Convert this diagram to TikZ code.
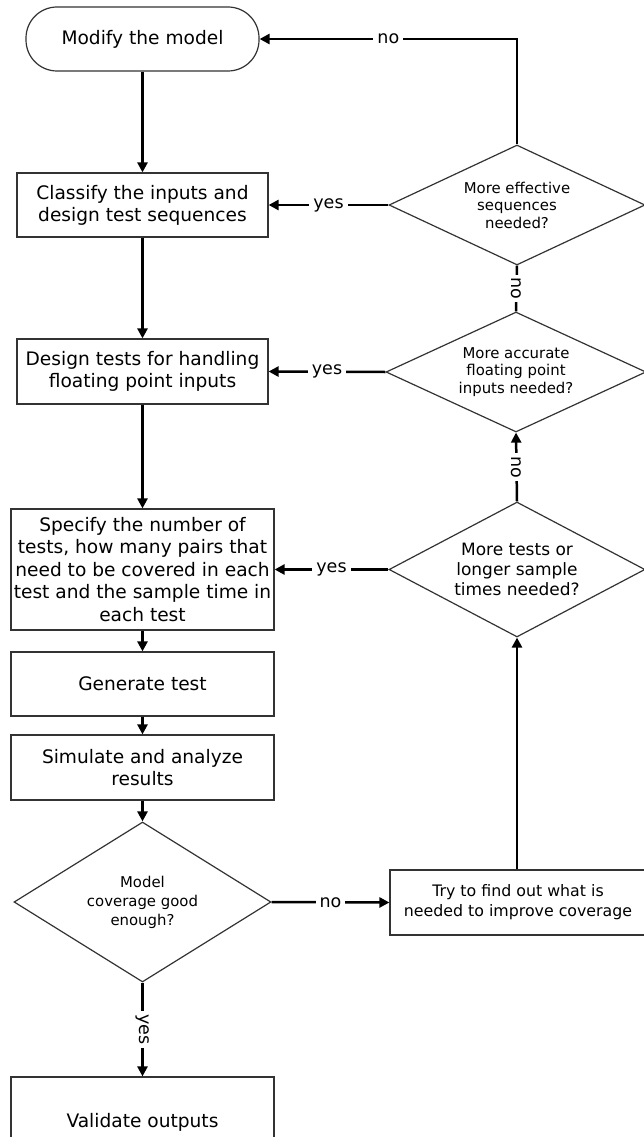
\documentclass[tikz,border=0pt]{standalone}
\usepackage{fontspec}
\setmainfont{DejaVu Sans}
\usetikzlibrary{shapes.geometric,arrows.meta}
\begin{document}
\begin{tikzpicture}[x=1pt,y=-1pt,
  boxstyle/.style={draw=black!80,line width=1.2pt,rectangle,inner sep=0pt,align=center,
    font=\fontsize{18.6}{22}\selectfont},
  decstyle/.style={draw=black!80,line width=1.2pt,diamond,inner sep=0pt,align=center},
  conn/.style={line width=2.5pt,-{Triangle[length=10pt,width=10pt]}},
  connplain/.style={line width=2.5pt},
  lbl/.style={fill=white,inner sep=4pt,font=\fontsize{17.5}{20}\selectfont},
  rlbl/.style={fill=white,inner sep=3pt,rotate=-90,font=\fontsize{17.5}{20}\selectfont}]
\useasboundingbox (0,0) rectangle (643,1137);
\fill[white] (0,0) rectangle (643,1137);

\node[boxstyle,rounded corners=31pt,minimum width=233pt,minimum height=64pt] (modify) at (142.5,39) {Modify the model};
\node[boxstyle,minimum width=251pt,minimum height=64pt] (classify) at (142.5,205) {Classify the inputs and\\design test sequences};
\node[boxstyle,minimum width=251pt,minimum height=65pt] (design) at (142.5,371.5) {Design tests for handling\\floating point inputs};
\node[boxstyle,minimum width=263pt,minimum height=121pt,font=\fontsize{18.6}{22.5}\selectfont] (specify) at (142.5,569.5) {Specify the number of\\tests, how many pairs that\\need to be covered in each\\test and the sample time in\\each test};
\node[boxstyle,minimum width=263pt,minimum height=64pt] (generate) at (142.5,684) {Generate test};
\node[boxstyle,minimum width=263pt,minimum height=65pt] (simulate) at (142.5,767.5) {Simulate and analyze\\results};
\node[boxstyle,minimum width=263pt,minimum height=90pt] (validate) at (142.5,1122) {Validate outputs};
\node[boxstyle,minimum width=256pt,minimum height=65pt,font=\fontsize{15.8}{20}\selectfont] (try) at (518,902.5) {Try to find out what is\\needed to improve coverage};

\node[decstyle,minimum width=257pt,minimum height=160pt,aspect=1.6,font=\fontsize{14.9}{19}\selectfont] (d4) at (142.5,902) {Model\\coverage good\\enough?};
\node[decstyle,minimum width=256pt,minimum height=120pt,aspect=2.13,font=\fontsize{14.9}{17.5}\selectfont] (d1) at (517,205) {More effective\\sequences\\needed?};
\node[decstyle,minimum width=260pt,minimum height=120pt,aspect=2.17,font=\fontsize{14.9}{17.5}\selectfont] (d2) at (516,372) {More accurate\\floating point\\inputs needed?};
\node[decstyle,minimum width=256pt,minimum height=135pt,aspect=1.9,font=\fontsize{17}{20}\selectfont] (d3) at (517,569.5) {More tests or\\longer sample\\times needed?};

\draw[conn] (modify) -- (classify);
\draw[conn] (classify) -- (design);
\draw[conn] (design) -- (specify);
\draw[conn] (specify) -- (generate);
\draw[conn] (generate) -- (simulate);
\draw[conn] (simulate) -- (d4);
\draw[conn] (d4.south) -- node[rlbl]{yes} (validate.north);
\draw[conn] (d4.east) -- node[lbl]{no} (try.west);
\draw[conn] (d3.south |- try.north) -- (d3.south);
\draw[conn] (d3.west) -- node[lbl]{yes} (specify.east);
\draw[conn] (d3.north) -- node[rlbl]{no} (d2.south);
\draw[conn] (d2.west) -- node[lbl]{yes} (design.east);
\draw[connplain] (d2.north) -- node[rlbl]{no} (d1.south);
\draw[conn] (d1.west) -- node[lbl]{yes} (classify.east);
\draw[conn] (d1.north) |- node[lbl,pos=0.75]{no} (modify.east);
\end{tikzpicture}
\end{document}
